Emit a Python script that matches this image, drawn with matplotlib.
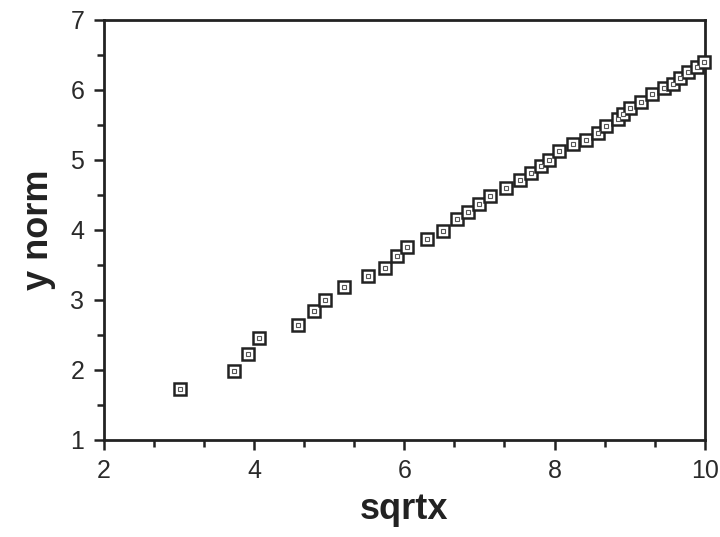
import numpy as np
import matplotlib
matplotlib.use('Agg')
import matplotlib.pyplot as plt
from matplotlib.ticker import MultipleLocator

plt.rcParams['font.family'] = ['Liberation Sans', 'DejaVu Sans']

# data
sqrtx = [3.01, 3.73, 3.92, 4.07, 4.58, 4.80, 4.94, 5.20, 5.52, 5.75,
         5.90, 6.03, 6.30, 6.51, 6.70, 6.85, 6.99, 7.14, 7.36, 7.54,
         7.69, 7.82, 7.93, 8.06, 8.24, 8.42, 8.58, 8.69, 8.84, 8.91,
         9.01, 9.15, 9.30, 9.46, 9.58, 9.67, 9.77, 9.89, 9.99]
ynorm = [1.73, 1.99, 2.22, 2.45, 2.64, 2.84, 3.00, 3.18, 3.34, 3.45,
         3.62, 3.76, 3.87, 3.99, 4.15, 4.26, 4.37, 4.49, 4.60, 4.71,
         4.81, 4.91, 5.00, 5.12, 5.22, 5.29, 5.39, 5.49, 5.59, 5.66,
         5.74, 5.83, 5.94, 6.02, 6.09, 6.17, 6.25, 6.33, 6.40]

fig = plt.figure(figsize=(7.2, 5.37), dpi=100)
ax = fig.add_axes([0.144, 0.181, 0.835, 0.782])

# outer square with small square inside
ax.plot(sqrtx, ynorm, ls='none', marker='s', ms=8.5, mfc='white',
        mec='#222222', mew=1.8, clip_on=False, zorder=3)
ax.plot(sqrtx, ynorm, ls='none', marker='s', ms=2.5, mfc='white',
        mec='#555555', mew=0.8, clip_on=False, zorder=4)

ax.set_xlim(2, 10)
ax.set_ylim(1, 7)
ax.xaxis.set_major_locator(MultipleLocator(2))
ax.xaxis.set_minor_locator(MultipleLocator(2 / 3))
ax.yaxis.set_major_locator(MultipleLocator(1))
ax.yaxis.set_minor_locator(MultipleLocator(0.5))

for s in ax.spines.values():
    s.set_linewidth(2)
    s.set_color('#222222')
ax.tick_params(which='both', direction='out', width=1.8, colors='#222222',
               labelsize=18, labelcolor='#2a2a2a', top=False, right=False)
ax.tick_params(which='major', length=7, pad=7)
ax.tick_params(which='minor', length=5)

ax.set_xlabel('sqrtx', fontsize=26, fontweight='bold', color='#222222', labelpad=6)
ax.set_ylabel('y norm', fontsize=26, fontweight='bold', color='#222222', labelpad=10)

fig.savefig('out.png', dpi=100)
